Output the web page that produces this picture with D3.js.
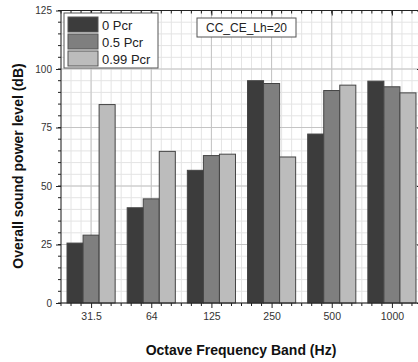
<!DOCTYPE html>
<html>
<head>
<meta charset="utf-8">
<script src="https://cdn.jsdelivr.net/npm/d3@7"></script>
<style>
  html, body { margin: 0; padding: 0; background: #fff; overflow: hidden; }
  svg { display: block; font-family: "Liberation Sans", Arial, sans-serif; }
</style>
</head>
<body>
<svg id="chart" width="418" height="362"></svg>
<script>
// Octave bands and sound power levels (dB) per load ratio
const bands = ["31.5", "64", "125", "250", "500", "1000"];
const seriesNames = ["0 Pcr", "0.5 Pcr", "0.99 Pcr"];
const level0 = [25.6, 40.7, 56.7, 95.0, 72.2, 94.8];
const level05 = [29.0, 44.5, 63.0, 93.8, 90.8, 92.4];
const level099 = [84.8, 64.8, 63.6, 62.4, 93.1, 89.8];
const yTicks = [0, 25, 50, 75, 100, 125];
const seriesColors = ["#3c3c3c", "#7f7f7f", "#bcbcbc"];

const series = [level0, level05, level099];

const svg = d3.select("#chart");
const margin = { left: 61, top: 10.5, right: 422, bottom: 303 };

// Linear band axis: category i sits at i+1, frame spans 0.5..6.5
const x = d3.scaleLinear().domain([0.5, bands.length + 0.5]).range([margin.left, margin.right]);
const y = d3.scaleLinear().domain([0, 125]).range([margin.bottom, margin.top]);

const plot = svg.append("g");

// Grid: minor every 1/6 band and every 5 dB, major at bands and every 25 dB
const minorX = d3.range(0.5, bands.length + 0.5 + 1e-6, 1 / 6);
const minorY = d3.range(0, 125.001, 5);
plot.append("g").selectAll("line").data(minorX).join("line")
  .attr("x1", d => x(d)).attr("x2", d => x(d))
  .attr("y1", y(0)).attr("y2", y(125))
  .attr("stroke", "#e4e4e4").attr("stroke-width", 1);
plot.append("g").selectAll("line").data(minorY).join("line")
  .attr("x1", x(0.5)).attr("x2", x(6.5))
  .attr("y1", d => y(d)).attr("y2", d => y(d))
  .attr("stroke", "#e4e4e4").attr("stroke-width", 1);
plot.append("g").selectAll("line").data(d3.range(1, bands.length + 1)).join("line")
  .attr("x1", d => x(d)).attr("x2", d => x(d))
  .attr("y1", y(0)).attr("y2", y(125))
  .attr("stroke", "#c4c4c4").attr("stroke-width", 1);
plot.append("g").selectAll("line").data(yTicks).join("line")
  .attr("x1", x(0.5)).attr("x2", x(6.5))
  .attr("y1", d => y(d)).attr("y2", d => y(d))
  .attr("stroke", "#c4c4c4").attr("stroke-width", 1);

// Bars
const groupWidth = 0.8;
const barW = groupWidth / series.length;
series.forEach((vals, s) => {
  plot.append("g").selectAll("rect").data(vals).join("rect")
    .attr("x", (d, i) => x(i + 1 - groupWidth / 2 + s * barW))
    .attr("width", x(barW) - x(0))
    .attr("y", d => y(d))
    .attr("height", d => y(0) - y(d))
    .attr("fill", seriesColors[s])
    .attr("stroke", "#444").attr("stroke-width", 1);
});

// Axes
const axisColor = "#222";
const tickVals = d3.range(1, bands.length + 1);

const xAxis = d3.axisBottom(x).tickValues(tickVals)
  .tickFormat(d => bands[d - 1]).tickSize(5).tickPadding(5);
const gx = svg.append("g").attr("transform", `translate(0,${y(0)})`).call(xAxis);
gx.select(".domain").attr("stroke", axisColor).attr("d", `M${x(0.5)},0H${x(6.5)}`);
gx.selectAll(".tick line").attr("stroke", axisColor);
gx.selectAll("text").attr("fill", "#333").style("font-size", "10.5px");
gx.selectAll(".minor").data(minorX.filter((d, i) => i % 6 !== 3)).join("line")
  .attr("x1", d => x(d)).attr("x2", d => x(d)).attr("y1", 0).attr("y2", 3)
  .attr("stroke", axisColor);

const gTop = svg.append("g").attr("transform", `translate(0,${y(125)})`)
  .call(d3.axisTop(x).tickValues(tickVals).tickFormat("").tickSize(-5));
gTop.select(".domain").attr("stroke", axisColor).attr("d", `M${x(0.5)},0H${x(6.5)}`);
gTop.selectAll(".tick line").attr("stroke", axisColor);
gTop.selectAll(".minor").data(minorX).join("line")
  .attr("x1", d => x(d)).attr("x2", d => x(d)).attr("y1", 0).attr("y2", 3)
  .attr("stroke", axisColor);

const yAxis = d3.axisLeft(y).tickValues(yTicks).tickSize(5).tickPadding(4);
const gy = svg.append("g").attr("transform", `translate(${x(0.5)},0)`).call(yAxis);
gy.select(".domain").attr("stroke", axisColor).attr("d", `M0,${y(0)}V${y(125)}`);
gy.selectAll(".tick line").attr("stroke", axisColor);
gy.selectAll("text").attr("fill", "#333").style("font-size", "10px");
gy.selectAll(".minor").data(minorY).join("line")
  .attr("x1", -3).attr("x2", 0).attr("y1", d => y(d)).attr("y2", d => y(d))
  .attr("stroke", axisColor);

const gR = svg.append("g").attr("transform", `translate(${x(6.5)},0)`)
  .call(d3.axisRight(y).tickValues(yTicks).tickFormat("").tickSize(-5));
gR.select(".domain").attr("stroke", axisColor).attr("d", `M0,${y(0)}V${y(125)}`);
gR.selectAll(".tick line").attr("stroke", axisColor);

// Axis titles
svg.append("text")
  .attr("x", 241).attr("y", 355)
  .attr("text-anchor", "middle")
  .style("font-size", "14px").style("font-weight", "bold").attr("fill", "#111")
  .text("Octave Frequency Band (Hz)");
svg.append("text")
  .attr("transform", `translate(23,${166}) rotate(-90)`)
  .attr("text-anchor", "middle")
  .style("font-size", "14px").style("font-weight", "bold").attr("fill", "#111")
  .text("Overall sound power level (dB)");

// Legend
const leg = svg.append("g");
leg.append("rect").attr("x", 64).attr("y", 13).attr("width", 94).attr("height", 55)
  .attr("fill", "#fff").attr("stroke", "#555").attr("stroke-width", 1);
seriesNames.forEach((name, i) => {
  leg.append("rect").attr("x", 68).attr("y", 17 + i * 17).attr("width", 30).attr("height", 15)
    .attr("fill", seriesColors[i]).attr("stroke", "#555");
  leg.append("text").attr("x", 102).attr("y", 30 + i * 17)
    .style("font-size", "13px").attr("fill", "#222").text(name);
});

// Annotation box
const note = svg.append("g");
note.append("rect").attr("x", 197).attr("y", 18).attr("width", 99).attr("height", 19)
  .attr("fill", "#fff").attr("stroke", "#555");
note.append("text").attr("x", 246.5).attr("y", 32).attr("text-anchor", "middle")
  .style("font-size", "12px").attr("fill", "#222").text("CC_CE_Lh=20");
</script>
</body>
</html>
